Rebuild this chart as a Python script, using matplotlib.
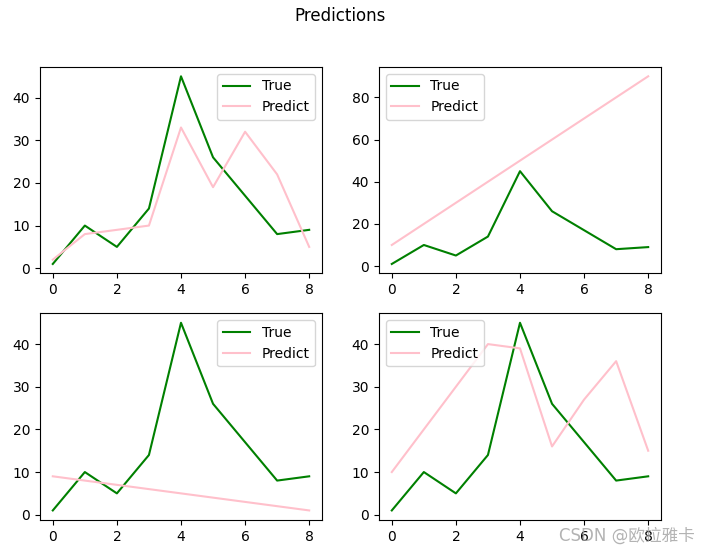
import numpy as np
import matplotlib.pyplot as plt

plt.rcParams['font.family'] = ['DejaVu Sans', 'Noto Sans CJK SC']

x = np.arange(9)
y_true = [1, 10, 5, 14, 45, 26, 17, 8, 9]

# predicoes de cada modelo
pred_1 = [2, 8, 9, 10, 33, 19, 32, 22, 5]
pred_2 = [10, 20, 30, 40, 50, 60, 70, 80, 90]
pred_3 = [9, 8, 7, 6, 5, 4, 3, 2, 1]
pred_4 = [10, 20, 30, 40, 39, 16, 27, 36, 15]
preds = [pred_1, pred_2, pred_3, pred_4]
locs = ['upper right', 'upper left', 'upper right', 'upper left']

fig, axs = plt.subplots(2, 2, figsize=(7.1, 5.53), dpi=100)
fig.subplots_adjust(left=0.0563, right=0.931, top=0.879, bottom=0.06,
                    wspace=0.202, hspace=0.194)
fig.suptitle('Predictions', x=0.479, y=0.987)

for ax, p, lc in zip(axs.flat, preds, locs):
    ax.plot(x, y_true, color='green', label='True')
    ax.plot(x, p, color='pink', label='Predict')
    ax.legend(loc=lc)

fig.text(0.978, 0.031, 'CSDN @欧拉雅卡', ha='right', va='center',
         fontsize=12, color='#a0a0a0', alpha=0.8)

plt.savefig('out.png')
